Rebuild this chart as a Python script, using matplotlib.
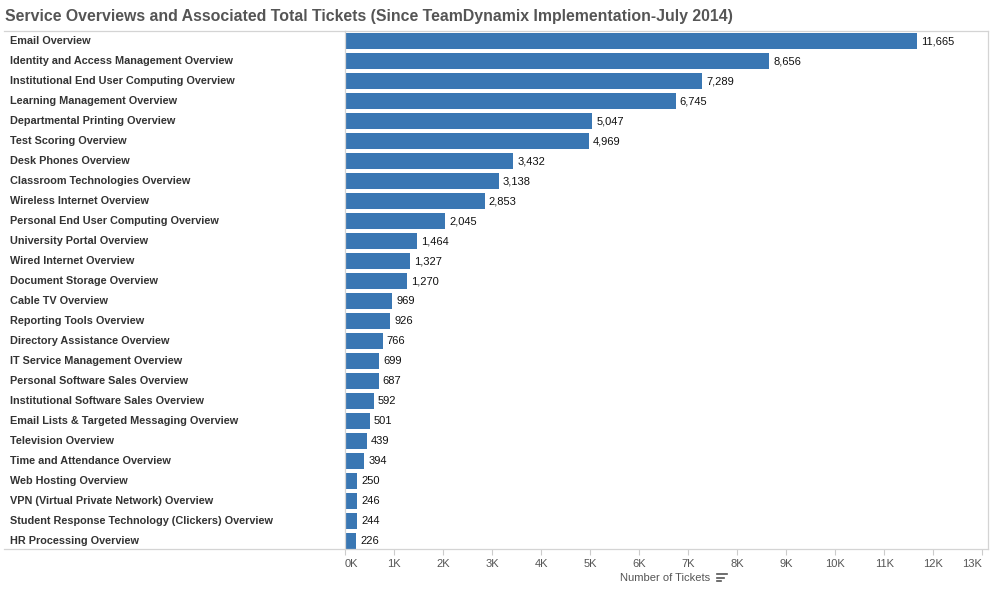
import matplotlib
matplotlib.use('Agg')
import matplotlib.pyplot as plt
from matplotlib.lines import Line2D
from matplotlib.ticker import FuncFormatter

services = ['Email Overview', 'Identity and Access Management Overview',
            'Institutional End User Computing Overview', 'Learning Management Overview',
            'Departmental Printing Overview', 'Test Scoring Overview',
            'Desk Phones Overview', 'Classroom Technologies Overview',
            'Wireless Internet Overview', 'Personal End User Computing Overview',
            'University Portal Overview', 'Wired Internet Overview',
            'Document Storage Overview', 'Cable TV Overview', 'Reporting Tools Overview',
            'Directory Assistance Overview', 'IT Service Management Overview',
            'Personal Software Sales Overview', 'Institutional Software Sales Overview',
            'Email Lists & Targeted Messaging Overview', 'Television Overview',
            'Time and Attendance Overview', 'Web Hosting Overview',
            'VPN (Virtual Private Network) Overview',
            'Student Response Technology (Clickers) Overview', 'HR Processing Overview']
tickets = [11665, 8656, 7289, 6745, 5047, 4969, 3432, 3138, 2853, 2045, 1464, 1327,
           1270, 969, 926, 766, 699, 687, 592, 501, 439, 394, 250, 246, 244, 226]
x_ticks = list(range(0, 14000, 1000))

plt.rcParams['font.family'] = ['Liberation Sans', 'DejaVu Sans']

W, H = 992, 594
fig = plt.figure(figsize=(W / 100, H / 100), dpi=100)
left, right, top, bottom = 345, 988, 31, 549
ax = fig.add_axes([left / W, 1 - bottom / H, (right - left) / W, (bottom - top) / H])

bar_color = '#3a77b3'
ypos = list(range(len(services)))
ax.barh(ypos, tickets, height=0.8, color=bar_color)
for y, v in zip(ypos, tickets):
    ax.annotate('{:,}'.format(v), xy=(v, y), xytext=(4, 0), textcoords='offset pixels',
                va='center', ha='left', fontsize=8, color='#111111')

ax.set_ylim(len(services) - 0.6, -0.5)
ax.set_xlim(0, 13120)
ax.set_yticks([])
ax.set_xticks(x_ticks)
ax.xaxis.set_major_formatter(FuncFormatter(lambda v, p: '{:d}K'.format(int(v / 1000))))
ax.tick_params(axis='x', colors='#cccccc', labelcolor='#555555', labelsize=8,
               length=4, width=0.8, pad=3)
# keep the end labels inside, as the original does
xlabels = ax.get_xticklabels()
xlabels[0].set_ha('left')
xlabels[-1].set_ha('right')

for s in ['top', 'right', 'left', 'bottom']:
    ax.spines[s].set_color('#d4d4d4')
    ax.spines[s].set_linewidth(0.9)

# row labels on the left panel
for y, name in zip(ypos, services):
    ax.annotate(name, xy=(0, y), xycoords=('axes fraction', 'data'),
                xytext=(10 - left, 0), textcoords='offset pixels',
                va='center', ha='left', fontsize=7.85, fontweight='bold', color='#333333')

# top and bottom lines across the label panel
for yy in [top, bottom]:
    fig.add_artist(Line2D([4 / W, left / W], [1 - yy / H, 1 - yy / H],
                          color='#d4d4d4', lw=0.9))

fig.text(5 / W, 1 - 16 / H, 'Service Overviews and Associated Total Tickets '
         '(Since TeamDynamix Implementation-July 2014)',
         fontsize=11.45, fontweight='bold', color='#555555', va='center', ha='left')

fig.text(665 / W, 1 - 578 / H, 'Number of Tickets', fontsize=8, color='#555555',
         va='center', ha='center')
# sort indicator
for i, w in enumerate([10, 7, 4]):
    yy = 1 - (574 + i * 3.5) / H
    fig.add_artist(Line2D([717 / W, (717 + w) / W], [yy, yy], color='#555555', lw=1.2))

fig.savefig('out.png', dpi=100)
